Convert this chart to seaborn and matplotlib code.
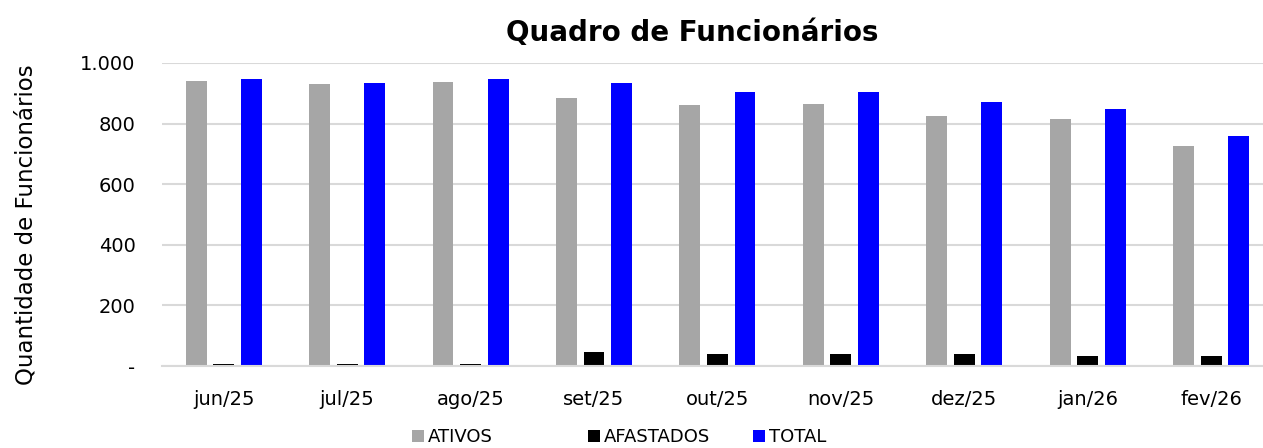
import matplotlib
matplotlib.use("Agg")
import matplotlib.pyplot as plt
from matplotlib.ticker import FixedLocator, FuncFormatter
from matplotlib.patches import Patch
import seaborn as sns
import pandas as pd

# Dados do quadro de funcionários
meses = ["jun/25", "jul/25", "ago/25", "set/25", "out/25", "nov/25", "dez/25", "jan/26", "fev/26"]
ativos = [941, 930, 936, 885, 860, 866, 826, 814, 725]
afastados = [6, 5, 5, 45, 41, 41, 41, 32, 32]
total = [946, 933, 946, 933, 903, 903, 870, 848, 759]

series = ["ATIVOS", "AFASTADOS", "TOTAL"]
cores = {"ATIVOS": "#a6a6a6", "AFASTADOS": "#000000", "TOTAL": "#0000ff"}

df = pd.DataFrame({"mes": meses, "ATIVOS": ativos, "AFASTADOS": afastados, "TOTAL": total})
df_long = df.melt(id_vars="mes", value_vars=series, var_name="serie", value_name="qtd")

sns.set_style("white")
plt.rcParams["font.family"] = ["DejaVu Sans"]
plt.rcParams["text.color"] = "black"
plt.rcParams["xtick.labelcolor"] = "black"
plt.rcParams["ytick.labelcolor"] = "black"
plt.rcParams["axes.labelcolor"] = "black"

fig = plt.figure(figsize=(12.63, 4.48), dpi=100)
ax = fig.add_axes([162 / 1263, 1 - 366 / 448, (1263 - 162) / 1263, (366 - 63) / 448])

sns.barplot(
    data=df_long,
    x="mes",
    y="qtd",
    hue="serie",
    hue_order=series,
    palette=cores,
    saturation=1,
    width=0.67,
    gap=0.24,
    linewidth=0,
    legend=False,
    ax=ax,
)

ax.set_ylim(0, 1000)
ax.set_xlim(-0.5, 8.42)
ax.yaxis.set_major_locator(FixedLocator([0, 200, 400, 600, 800, 1000]))
ax.yaxis.set_major_formatter(
    FuncFormatter(lambda v, p: "-" if v == 0 else f"{int(v):,}".replace(",", "."))
)
ax.grid(axis="y", color="#d9d9d9", linewidth=1.5)
ax.set_axisbelow(True)
for s in ["top", "right", "left"]:
    ax.spines[s].set_visible(False)
ax.spines["bottom"].set_color("#d9d9d9")
ax.spines["bottom"].set_linewidth(1.5)

# marcas entre categorias
ax.xaxis.set_minor_locator(FixedLocator([i - 0.5 for i in range(len(meses) + 1)]))
ax.tick_params(axis="x", which="major", length=0, pad=17, labelsize=14)
ax.tick_params(axis="x", which="minor", length=7, width=1.5, color="#d9d9d9", direction="out")
ax.tick_params(axis="y", length=7, width=1.5, color="#d9d9d9", labelsize=14, pad=12)

ax.set_xlabel("")
ax.set_ylabel("Quantidade de Funcionários", fontsize=16.5)
ax.yaxis.set_label_coords((38 - 162) / 1101, (366 - 225) / 303)
ax.set_title("Quadro de Funcionários", fontsize=20, fontweight="bold", pad=16,
             x=(692 - 162) / 1101)

# legenda inferior com três entradas espaçadas
pos_x = [412, 588, 753]
for nome, x in zip(series, pos_x):
    fig.legend(
        handles=[Patch(facecolor=cores[nome], edgecolor="none", label=nome)],
        loc="center left",
        bbox_to_anchor=(x / 1263, 1 - 437 / 448),
        frameon=False,
        fontsize=13,
        handlelength=0.65,
        handleheight=0.65,
        handletextpad=0.25,
        borderaxespad=0,
        borderpad=0,
    )

fig.savefig("out.png", dpi=100)
